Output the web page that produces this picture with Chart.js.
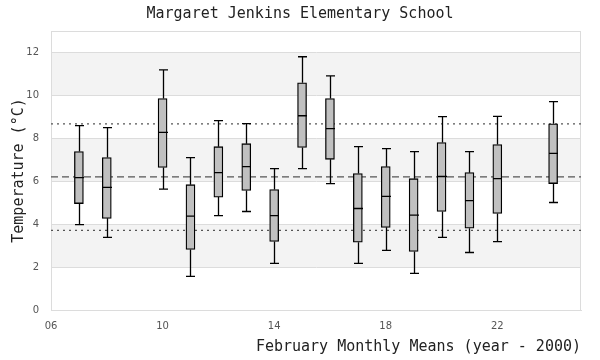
<!DOCTYPE html>
<html>
<head>
<meta charset="utf-8">
<script src="https://cdn.jsdelivr.net/npm/chart.js@4/dist/chart.umd.min.js"></script>
<style>
  html, body { margin: 0; padding: 0; background: #fff; }
  #wrap { width: 600px; height: 360px; }
</style>
</head>
<body>
<div id="wrap"><canvas id="c" width="600" height="360"></canvas></div>
<script>
// ---- data ----
const years       = [7, 8, 10, 11, 12, 13, 14, 15, 16, 17, 18, 19, 20, 21, 22, 24];
const whiskerLow  = [3.98, 3.38, 5.63, 1.57, 4.40, 4.59, 2.17, 6.59, 5.89, 2.17, 2.78, 1.71, 3.38, 2.68, 3.19, 5.01];
const q1          = [4.96, 4.27, 6.64, 2.82, 5.26, 5.57, 3.19, 7.57, 7.02, 3.16, 3.85, 2.73, 4.59, 3.81, 4.50, 5.89];
const medians     = [6.17, 5.71, 8.28, 4.37, 6.40, 6.68, 4.40, 9.05, 8.45, 4.73, 5.29, 4.42, 6.22, 5.10, 6.12, 7.30];
const q3          = [7.38, 7.10, 9.85, 5.84, 7.61, 7.75, 5.61, 10.59, 9.85, 6.36, 6.68, 6.12, 7.80, 6.40, 7.71, 8.68];
const whiskerHigh = [8.59, 8.50, 11.19, 7.10, 8.82, 8.68, 6.59, 11.80, 10.91, 7.61, 7.52, 7.38, 9.01, 7.38, 9.02, 9.71];
const meanValue   = 6.20;
const stdUpper    = 8.67;
const stdLower    = 3.71;
const xTicks      = [6, 10, 14, 18, 22];
const yTicks      = [0, 2, 4, 6, 8, 10, 12];
const bands       = [[2, 4], [6, 8], [10, 12]];
const xRange      = [6, 25];
const yRange      = [0, 13];

const monoFont = "'DejaVu Sans Mono', 'Liberation Mono', monospace";
const sansFont = "'DejaVu Sans', sans-serif";

const boxData = years.map((y, i) => ({ x: y, y: [q1[i], q3[i]] }));
const hLine = v => [{ x: xRange[0], y: v }, { x: xRange[1], y: v }];

const bgPlugin = {
  id: 'bg',
  afterLayout(chart) {
    // centre the title over the whole canvas
    if (chart.titleBlock) {
      chart.titleBlock.left = 0;
      chart.titleBlock.right = chart.width;
      chart.titleBlock.width = chart.width;
    }
  },
  beforeDraw(chart) {
    const { ctx, chartArea: a, scales: { y } } = chart;
    ctx.save();
    ctx.fillStyle = '#f3f3f3';
    bands.forEach(([lo, hi]) => {
      const yt = y.getPixelForValue(hi), yb = y.getPixelForValue(lo);
      ctx.fillRect(a.left, yt, a.right - a.left, yb - yt);
    });
    ctx.restore();
  },
  beforeDatasetsDraw(chart) {
    const { ctx, chartArea: a } = chart;
    ctx.save();
    ctx.strokeStyle = '#dcdcdc';
    ctx.lineWidth = 1;
    ctx.strokeRect(a.left + 0.5, a.top + 0.5, a.right - a.left - 1, a.bottom - a.top);
    ctx.restore();
  }
};

const whiskerPlugin = {
  id: 'whiskers',
  afterDatasetsDraw(chart) {
    const { ctx, scales: { x, y } } = chart;
    const half = 4.5;
    ctx.save();
    ctx.strokeStyle = '#000';
    ctx.lineWidth = 1.3;
    years.forEach((yr, i) => {
      const px = Math.round(x.getPixelForValue(yr)) + 0.5;
      const pLo = y.getPixelForValue(whiskerLow[i]);
      const pQ1 = y.getPixelForValue(q1[i]);
      const pMed = y.getPixelForValue(medians[i]);
      const pQ3 = y.getPixelForValue(q3[i]);
      const pHi = y.getPixelForValue(whiskerHigh[i]);
      ctx.beginPath();
      ctx.moveTo(px, pQ1); ctx.lineTo(px, pLo);
      ctx.moveTo(px - half, pLo); ctx.lineTo(px + half, pLo);
      ctx.moveTo(px, pQ3); ctx.lineTo(px, pHi);
      ctx.moveTo(px - half, pHi); ctx.lineTo(px + half, pHi);
      ctx.moveTo(px - half, pMed); ctx.lineTo(px + half, pMed);
      ctx.stroke();
    });
    ctx.restore();
  }
};

new Chart(document.getElementById('c'), {
  type: 'bar',
  data: {
    datasets: [
      {
        type: 'bar',
        label: 'box',
        data: boxData,
        backgroundColor: '#c0c0c0',
        borderColor: '#000',
        borderWidth: 1.3,
        borderSkipped: false,
        barThickness: 9,
        order: 1
      },
      {
        type: 'line', label: 'mean', data: hLine(meanValue),
        borderColor: '#555', borderWidth: 1.2, borderDash: [7, 4],
        pointRadius: 0, order: 2
      },
      {
        type: 'line', label: 'upper', data: hLine(stdUpper),
        borderColor: '#555', borderWidth: 1.2, borderDash: [2, 4],
        pointRadius: 0, order: 2
      },
      {
        type: 'line', label: 'lower', data: hLine(stdLower),
        borderColor: '#555', borderWidth: 1.2, borderDash: [2, 4],
        pointRadius: 0, order: 2
      }
    ]
  },
  options: {
    responsive: false,
    animation: false,
    devicePixelRatio: 1,
    layout: { padding: { left: 0, right: 19, top: 0, bottom: 0 } },
    plugins: {
      legend: { display: false },
      tooltip: { enabled: false },
      title: {
        display: true,
        text: 'Margaret Jenkins Elementary School',
        color: '#222',
        font: { family: monoFont, size: 15, weight: 'normal', lineHeight: 1.2 },
        padding: { top: 5, bottom: 8 }
      }
    },
    scales: {
      x: {
        type: 'linear',
        min: xRange[0], max: xRange[1],
        offset: false,
        grid: { display: false, drawTicks: false },
        border: { display: true, color: '#dcdcdc' },
        afterBuildTicks: s => { s.ticks = xTicks.map(v => ({ value: v })); },
        afterFit: s => { s.height = 50; },
        ticks: {
          color: '#555',
          padding: 10,
          maxRotation: 0,
          font: { family: sansFont, size: 10 },
          callback: v => String(v).padStart(2, '0')
        },
        title: {
          display: true,
          text: 'February Monthly Means (year - 2000)',
          align: 'end',
          color: '#222',
          font: { family: monoFont, size: 15, lineHeight: 1.2 },
          padding: { top: 0, bottom: 4 }
        }
      },
      y: {
        type: 'linear',
        min: yRange[0], max: yRange[1],
        grid: { color: '#dcdcdc', lineWidth: 1, drawTicks: false },
        border: { display: true, color: '#dcdcdc' },
        afterBuildTicks: s => { s.ticks = yTicks.map(v => ({ value: v })); },
        afterFit: s => { s.width = 51; },
        ticks: {
          color: '#555',
          padding: 12,
          font: { family: sansFont, size: 10 }
        },
        title: {
          display: true,
          text: 'Temperature (°C)',
          color: '#222',
          font: { family: monoFont, size: 15, lineHeight: 1.2 },
          padding: { top: 10, bottom: 0 }
        }
      }
    }
  },
  plugins: [bgPlugin, whiskerPlugin]
});
</script>
</body>
</html>
